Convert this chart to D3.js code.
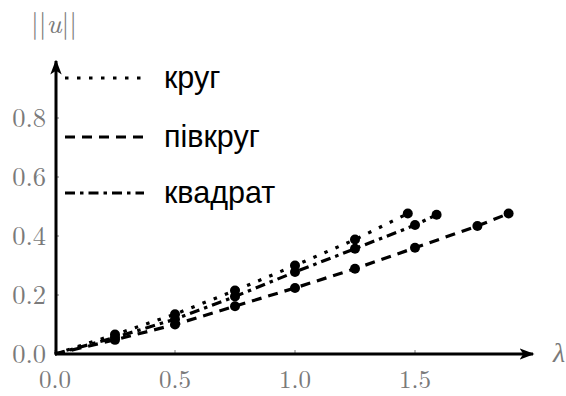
<!DOCTYPE html>
<html><head><meta charset="utf-8">
<script src="https://cdn.jsdelivr.net/npm/d3@7"></script>
<style>body{margin:0;background:#fff}svg{display:block}</style>
</head><body>
<script>
// Data
const seriesNames = ["круг", "півкруг", "квадрат"];
const lamCircle = [0, 0.25, 0.5, 0.75, 1.0, 1.25, 1.47];
const uCircle   = [0, 0.066, 0.135, 0.215, 0.300, 0.388, 0.476];
const lamHalf   = [0, 0.25, 0.5, 0.75, 1.0, 1.25, 1.5, 1.76, 1.89];
const uHalf     = [0, 0.048, 0.100, 0.162, 0.224, 0.289, 0.360, 0.434, 0.476];
const lamSquare = [0, 0.25, 0.5, 0.75, 1.0, 1.25, 1.5, 1.59];
const uSquare   = [0, 0.056, 0.118, 0.195, 0.278, 0.357, 0.437, 0.472];
const xTicks = [0.0, 0.5, 1.0, 1.5];
const yTicks = [0.0, 0.2, 0.4, 0.6, 0.8];

const W = 566, H = 396;
const svg = d3.select("body").append("svg").attr("width", W).attr("height", H);
const x = d3.scaleLinear().domain([0, 1]).range([55, 295]);
const y = d3.scaleLinear().domain([0, 1]).range([354, 59]);

const styles = ["3.5,8.5", "10,7", "10,5,3.5,5"];
const series = [
  {name: seriesNames[0], l: lamCircle, u: uCircle},
  {name: seriesNames[1], l: lamHalf, u: uHalf},
  {name: seriesNames[2], l: lamSquare, u: uSquare}
];

const gray = "#7a7a7a";
const tickFont = "'Latin Modern Roman','Liberation Serif','DejaVu Serif',serif";
svg.selectAll(".xt").data(xTicks).enter().append("line")
  .attr("x1", d => x(d)).attr("x2", d => x(d)).attr("y1", 354).attr("y2", 350)
  .attr("stroke", gray).attr("stroke-width", 1);
svg.selectAll(".yt").data(yTicks).enter().append("line")
  .attr("x1", 55).attr("x2", 59).attr("y1", d => y(d)).attr("y2", d => y(d))
  .attr("stroke", gray).attr("stroke-width", 1);
svg.selectAll(".xl").data(xTicks).enter().append("text")
  .attr("x", d => x(d)).attr("y", 388).attr("text-anchor", "middle")
  .attr("font-family", tickFont).attr("font-size", 25).attr("fill", gray)
  .text(d => d.toFixed(1));
svg.selectAll(".yl").data(yTicks).enter().append("text")
  .attr("x", 46).attr("y", d => y(d) + 9).attr("text-anchor", "end")
  .attr("font-family", tickFont).attr("font-size", 26.5).attr("fill", gray)
  .text(d => d.toFixed(1));

// data lines
const line = d3.line().x(d => x(d[0])).y(d => y(d[1]));
series.forEach((s, i) => {
  const pts = s.l.map((v, j) => [v, s.u[j]]);
  svg.append("path").attr("d", line(pts)).attr("fill", "none")
    .attr("stroke", "#000").attr("stroke-width", 3.2)
    .attr("stroke-dasharray", styles[i]);
  svg.selectAll(null).data(pts.filter(p => p[0] > 0)).enter().append("circle")
    .attr("cx", d => x(d[0])).attr("cy", d => y(d[1])).attr("r", 5).attr("fill", "#000");
});

// axes with arrows
svg.append("defs").append("marker").attr("id", "arr")
  .attr("viewBox", "0 0 10 10").attr("refX", 9).attr("refY", 5)
  .attr("markerWidth", 5).attr("markerHeight", 5).attr("orient", "auto")
  .attr("markerUnits", "strokeWidth")
  .append("path").attr("d", "M0,1.2 L10,5 L0,8.8 L2.5,5 Z").attr("fill", "#000");
svg.append("line").attr("x1", 55).attr("y1", 354).attr("x2", 533).attr("y2", 354)
  .attr("stroke", "#000").attr("stroke-width", 3).attr("marker-end", "url(#arr)");
svg.append("line").attr("x1", 56).attr("y1", 355).attr("x2", 56).attr("y2", 61)
  .attr("stroke", "#000").attr("stroke-width", 3).attr("marker-end", "url(#arr)");

// axis labels
svg.append("text").attr("x", 559).attr("y", 362).attr("text-anchor", "middle")
  .attr("font-family", tickFont).attr("font-style", "italic").attr("font-size", 28)
  .attr("fill", gray).text("λ");
const yl = svg.append("text").attr("x", 54).attr("y", 33).attr("text-anchor", "middle")
  .attr("font-family", tickFont).attr("font-size", 28).attr("fill", gray);
yl.append("tspan").text("||");
yl.append("tspan").attr("font-style", "italic").text("u");
yl.append("tspan").text("||");

// legend
const legY = [78, 137, 193];
series.forEach((s, i) => {
  svg.append("line").attr("x1", 65).attr("x2", 144).attr("y1", legY[i]).attr("y2", legY[i])
    .attr("stroke", "#000").attr("stroke-width", 3.2).attr("stroke-dasharray", styles[i]);
  svg.append("text").attr("x", 164).attr("y", legY[i] + 10)
    .attr("font-family", "'Liberation Sans', Arial, sans-serif").attr("font-size", 30.5)
    .attr("fill", "#000").text(s.name);
});
</script>
</body></html>
